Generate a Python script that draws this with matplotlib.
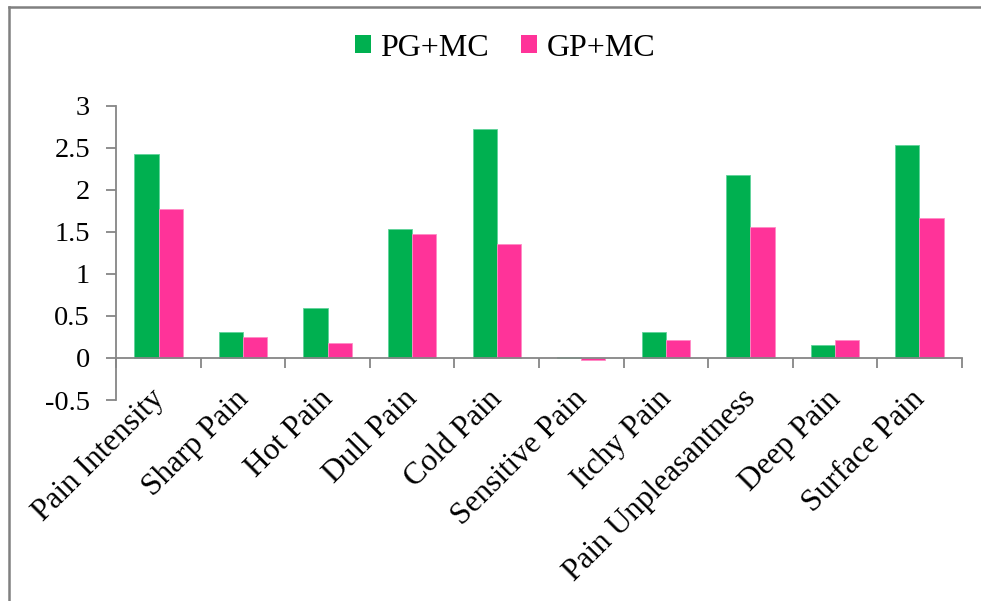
import numpy as np
import matplotlib
matplotlib.use('Agg')
import matplotlib.pyplot as plt
from matplotlib.lines import Line2D
from matplotlib.patches import Patch
import matplotlib.transforms as mtransforms

plt.rcParams['font.family'] = ['Liberation Serif', 'DejaVu Serif']

categories = ['Pain Intensity', 'Sharp Pain', 'Hot Pain', 'Dull Pain', 'Cold Pain',
              'Sensitive Pain', 'Itchy Pain', 'Pain Unpleasantness', 'Deep Pain', 'Surface Pain']
pg_mc = [2.42, 0.31, 0.60, 1.53, 2.72, 0.015, 0.31, 2.18, 0.155, 2.53]
gp_mc = [1.77, 0.25, 0.18, 1.48, 1.35, -0.02, 0.21, 1.56, 0.21, 1.67]
series_names = ['PG+MC', 'GP+MC']
colors = ['#00B050', '#FF3399']
edge_colors = ['#5fd39a', '#ff8cc6']
yticks = [-0.5, 0, 0.5, 1, 1.5, 2, 2.5, 3]

W, H = 981, 601
fig = plt.figure(figsize=(W / 100, H / 100), dpi=100)
ax = fig.add_axes([116.3 / W, 1 - 400 / H, (961.7 - 116.3) / W, (400 - 105.7) / H])

x = np.arange(len(categories))
bw = 1 / 3.5
for k, vals in enumerate([pg_mc, gp_mc]):
    ax.bar(x + (k - 0.5) * bw, vals, width=bw, color=colors[k],
           edgecolor=edge_colors[k], linewidth=0.6, label=series_names[k], zorder=2)

ax.set_xlim(-0.5, len(categories) - 0.5)
ax.set_ylim(-0.5, 3)
ax.set_yticks(yticks)
ax.set_yticklabels([f'{v:g}' for v in yticks])

gray = '#868686'
for s in ['top', 'right']:
    ax.spines[s].set_visible(False)
ax.spines['left'].set_color(gray)
ax.spines['left'].set_linewidth(1.3)
ax.spines['bottom'].set_color(gray)
ax.spines['bottom'].set_linewidth(1.3)
ax.spines['bottom'].set_position(('data', 0))
ax.spines['bottom'].set_zorder(3)

ax.tick_params(axis='y', direction='out', length=7, width=1.3, color=gray,
               pad=12, labelsize=20.5)
ax.set_xticks(np.arange(len(categories) + 1) - 0.5, minor=True)
ax.set_xticks(x)
ax.set_xticklabels(categories, rotation=45, ha='right', rotation_mode='anchor', fontsize=22.5)
ax.tick_params(axis='x', which='major', length=0, pad=19)
ax.tick_params(axis='x', which='minor', direction='out', length=7, width=1.3, color=gray)

offset = mtransforms.ScaledTranslation(-9 / 100, 0, fig.dpi_scale_trans)
for lbl in ax.get_xticklabels():
    lbl.set_transform(lbl.get_transform() + offset)

handles = [Patch(facecolor=c, edgecolor='none') for c in colors]
fig.legend(handles, series_names, loc='center', bbox_to_anchor=(505 / W, 1 - 48 / H),
           ncol=2, frameon=False, fontsize=23, handlelength=0.5, handleheight=0.5,
           handletextpad=0.3, columnspacing=1.0)

# outer chart border (only left and top edges visible in the crop)
fig.add_artist(Line2D([8.5 / W, 8.5 / W], [0, 1 - 7 / H], transform=fig.transFigure,
                      color='#808080', linewidth=1.8))
fig.add_artist(Line2D([8.5 / W, 1], [1 - 7 / H, 1 - 7 / H], transform=fig.transFigure,
                      color='#808080', linewidth=1.8))

fig.savefig('out.png', dpi=100)
